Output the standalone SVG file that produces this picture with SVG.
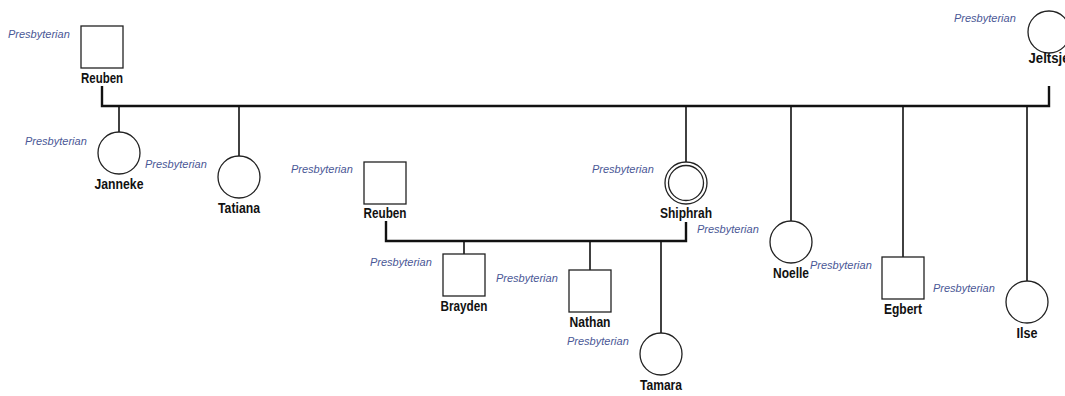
<svg xmlns="http://www.w3.org/2000/svg" width="1065" height="396" viewBox="0 0 1065 396">
  <style>
    .bg { fill: #ffffff; }
    .m { fill: none; stroke: #222; stroke-width: 1.3; }
    .link { fill: none; stroke: #111; stroke-width: 1.6; }
    .couple { fill: none; stroke: #111; stroke-width: 2.4; }
    .name { font-family: "Liberation Sans", Arial, sans-serif; font-weight: bold; font-size: 14px; fill: #111; text-anchor: middle; }
    .rel { font-family: "Liberation Sans", Arial, sans-serif; font-style: italic; font-size: 11px; fill: #4a5796; }
  </style>
  <rect class="bg" width="1065" height="396"/>

  <!-- family lines -->
  <g id="connectors">
    <polyline class="couple" points="102,86 102,106 1049,106 1049,86"/>
    <line class="link" x1="119" y1="106" x2="119" y2="132"/>
    <line class="link" x1="239" y1="106" x2="239" y2="156"/>
    <line class="link" x1="686" y1="106" x2="686" y2="162"/>
    <line class="link" x1="791" y1="106" x2="791" y2="221"/>
    <line class="link" x1="903" y1="106" x2="903" y2="257"/>
    <line class="link" x1="1027" y1="106" x2="1027" y2="281"/>
    <polyline class="couple" points="386,221 386,241 686,241 686,222"/>
    <line class="link" x1="464" y1="241" x2="464" y2="254"/>
    <line class="link" x1="590" y1="241" x2="590" y2="270"/>
    <line class="link" x1="661" y1="241" x2="661" y2="333"/>
  </g>

  <g id="reuben-sr">
    <rect class="m" x="81" y="26" width="42" height="42"/>
    <text class="name" x="102" y="83" textLength="42" lengthAdjust="spacingAndGlyphs">Reuben</text>
    <text class="rel" x="8" y="38">Presbyterian</text>
  </g>

  <g id="jeltsje">
    <circle class="m" cx="1049" cy="32" r="21"/>
    <text class="name" x="1049" y="63" textLength="41" lengthAdjust="spacingAndGlyphs">Jeltsje</text>
    <text class="rel" x="954" y="22">Presbyterian</text>
  </g>

  <g id="janneke">
    <circle class="m" cx="119" cy="153" r="21"/>
    <text class="name" x="119" y="189" textLength="49" lengthAdjust="spacingAndGlyphs">Janneke</text>
    <text class="rel" x="25" y="145">Presbyterian</text>
  </g>

  <g id="tatiana">
    <circle class="m" cx="239" cy="177" r="21"/>
    <text class="name" x="239" y="213" textLength="42" lengthAdjust="spacingAndGlyphs">Tatiana</text>
    <text class="rel" x="145" y="168">Presbyterian</text>
  </g>

  <g id="reuben-jr">
    <rect class="m" x="364" y="162" width="42" height="42"/>
    <text class="name" x="385" y="218" textLength="43" lengthAdjust="spacingAndGlyphs">Reuben</text>
    <text class="rel" x="291" y="173">Presbyterian</text>
  </g>

  <g id="shiphrah">
    <circle class="m" cx="686" cy="183" r="21"/>
    <circle class="m" cx="686" cy="183" r="17.5"/>
    <text class="name" x="686" y="218" textLength="52" lengthAdjust="spacingAndGlyphs">Shiphrah</text>
    <text class="rel" x="592" y="173">Presbyterian</text>
    <text class="rel" x="697" y="233">Presbyterian</text>
  </g>

  <g id="brayden">
    <rect class="m" x="443" y="254" width="42" height="42"/>
    <text class="name" x="464" y="311" textLength="47" lengthAdjust="spacingAndGlyphs">Brayden</text>
    <text class="rel" x="370" y="266">Presbyterian</text>
  </g>

  <g id="nathan">
    <rect class="m" x="569" y="270" width="42" height="42"/>
    <text class="name" x="590" y="327" textLength="41" lengthAdjust="spacingAndGlyphs">Nathan</text>
    <text class="rel" x="496" y="282">Presbyterian</text>
  </g>

  <g id="tamara">
    <circle class="m" cx="661" cy="354" r="21"/>
    <text class="name" x="661" y="390" textLength="42" lengthAdjust="spacingAndGlyphs">Tamara</text>
    <text class="rel" x="567" y="345">Presbyterian</text>
  </g>

  <g id="noelle">
    <circle class="m" cx="791" cy="242" r="21"/>
    <text class="name" x="791" y="278" textLength="36" lengthAdjust="spacingAndGlyphs">Noelle</text>
    <text class="rel" x="810" y="269">Presbyterian</text>
  </g>

  <g id="egbert">
    <rect class="m" x="882" y="257" width="42" height="42"/>
    <text class="name" x="903" y="314" textLength="38" lengthAdjust="spacingAndGlyphs">Egbert</text>
    <text class="rel" x="933" y="292">Presbyterian</text>
  </g>

  <g id="ilse">
    <circle class="m" cx="1027" cy="302" r="21"/>
    <text class="name" x="1027" y="338" textLength="21" lengthAdjust="spacingAndGlyphs">Ilse</text>
  </g>
</svg>
